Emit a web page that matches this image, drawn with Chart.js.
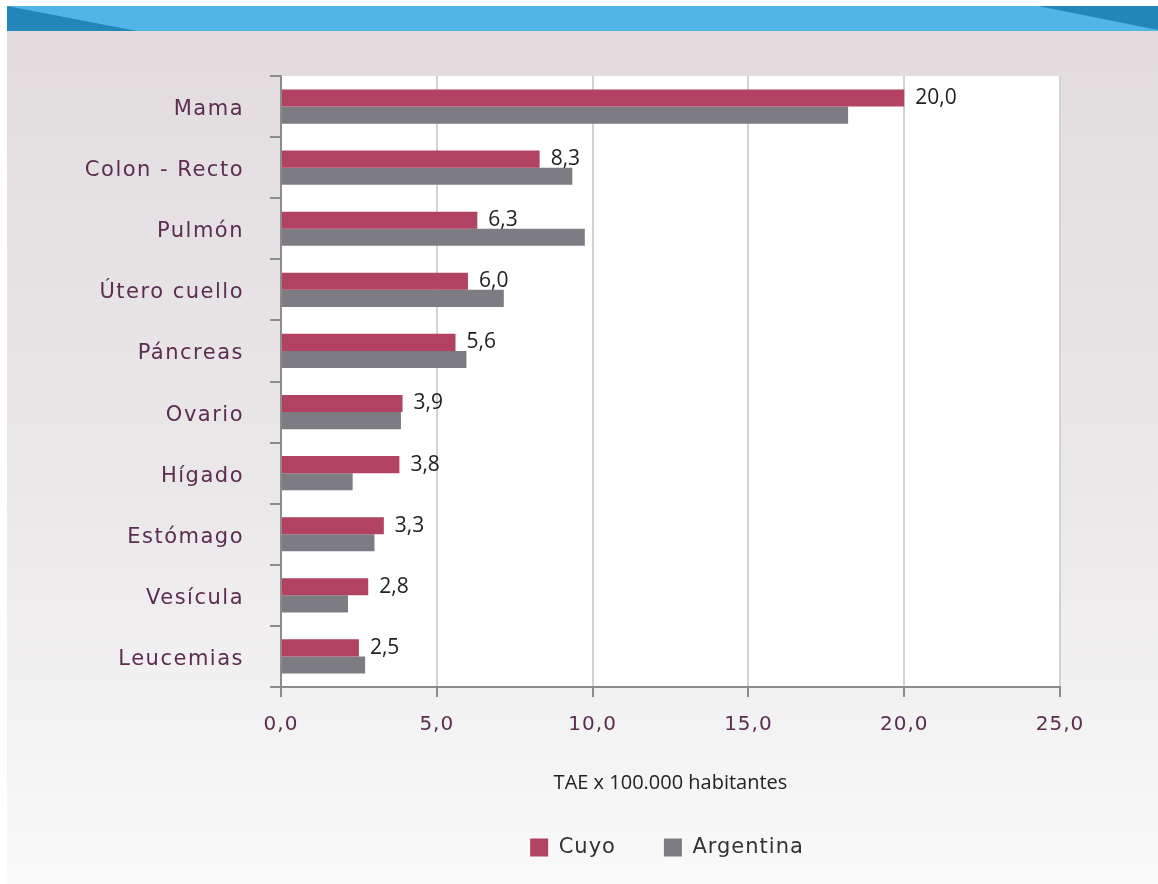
<!DOCTYPE html>
<html>
<head>
<meta charset="utf-8">
<script src="https://cdn.jsdelivr.net/npm/chart.js@4/dist/chart.umd.min.js"></script>
<style>
  html, body { margin: 0; padding: 0; background: #ffffff; }
  canvas { display: block; }
</style>
</head>
<body>
<canvas id="chart" width="1158" height="884"></canvas>
<script>
const categories = ["Mama", "Colon - Recto", "Pulmón", "Útero cuello", "Páncreas",
  "Ovario", "Hígado", "Estómago", "Vesícula", "Leucemias"];
const cuyo = [20.0, 8.3, 6.3, 6.0, 5.6, 3.9, 3.8, 3.3, 2.8, 2.5];
const argentina = [18.2, 9.35, 9.75, 7.15, 5.95, 3.85, 2.3, 3.0, 2.15, 2.7];
const xTicks = [0, 5, 10, 15, 20, 25];

const fmt = v => Number(v).toFixed(1).replace(".", ",");

// draw a box's text with a little extra tracking (and an optional nudge)
function spaced(obj, method, amount, dx = 0, dy = 0) {
  const orig = obj[method].bind(obj);
  obj[method] = function (...args) {
    const c = this.ctx;
    c.save();
    c.letterSpacing = amount;
    c.translate(dx, dy);
    orig(...args);
    c.restore();
  };
}

function trackLabels(scale, amount, dy = 0) {
  if (!scale._tracked) {
    spaced(scale, "drawLabels", amount, 0, dy);
    scale._tracked = true;
  }
}

const ctx = document.querySelector("#chart").getContext("2d");

// page background, blue header strip and white plot panel
const backdrop = {
  id: "backdrop",
  beforeInit(chart) {
    const lg = chart.legend;
    if (lg) {
      // keep the legend as a short strip under the axis title
      const fit = lg.fit.bind(lg);
      lg.fit = function () {
        fit();
        this.height = 95;
      };
      spaced(lg, "draw", "1px", -10);
    }
  },
  beforeDraw(chart) {
    const c = chart.ctx;
    const { width, height, chartArea: a } = chart;
    c.save();
    c.fillStyle = "#ffffff";
    c.fillRect(0, 0, width, height);
    const g = c.createLinearGradient(0, 30, 0, height);
    g.addColorStop(0, "#e2dcdf");
    g.addColorStop(0.55, "#ebe8ea");
    g.addColorStop(1, "#fafafa");
    c.fillStyle = g;
    c.fillRect(7, 6, width - 7, height - 6);
    c.fillStyle = "#50b6e6";
    c.fillRect(7, 6, width - 7, 25);
    c.fillStyle = "#2386b8";
    c.beginPath();
    c.moveTo(7, 6);
    c.lineTo(137, 31);
    c.lineTo(7, 31);
    c.closePath();
    c.fill();
    c.beginPath();
    c.moveTo(1038, 6);
    c.lineTo(width, 6);
    c.lineTo(width, 30);
    c.closePath();
    c.fill();
    c.fillStyle = "#ffffff";
    c.fillRect(a.left, a.top, a.right - a.left, a.bottom - a.top);
    c.restore();
  },
  afterDatasetsDraw(chart) {
    // value labels next to the Cuyo bars
    const c = chart.ctx;
    const meta = chart.getDatasetMeta(0);
    c.save();
    c.font = "21px 'Open Sans'";
    c.fillStyle = "#222222";
    c.textAlign = "left";
    c.textBaseline = "middle";
    meta.data.forEach((bar, i) => {
      c.fillText(fmt(cuyo[i]), bar.x + 11, bar.y);
    });
    c.restore();
  },
};

const chart = new Chart(ctx, {
  type: "bar",
  data: {
    labels: categories,
    datasets: [
      {
        label: "Cuyo",
        data: cuyo,
        backgroundColor: "#b14261",
        categoryPercentage: 0.56,
        barPercentage: 1,
      },
      {
        label: "Argentina",
        data: argentina,
        backgroundColor: "#7e7c83",
        categoryPercentage: 0.56,
        barPercentage: 1,
      },
    ],
  },
  options: {
    responsive: false,
    animation: false,
    indexAxis: "y",
    layout: { padding: { top: 76, right: 98, left: 0, bottom: 0 } },
    plugins: {
      legend: {
        position: "bottom",
        fullSize: false,
        labels: {
          boxWidth: 18,
          boxHeight: 18,
          padding: 48,
          color: "#333333",
          font: { family: "'DejaVu Sans'", size: 21 },
        },
      },
      tooltip: { enabled: false },
    },
    scales: {
      x: {
        min: 0,
        max: 25,
        afterFit(scale) {
          scale.height = 102;
        },
        afterUpdate(scale) {
          trackLabels(scale, "1px");
        },
        afterBuildTicks(scale) {
          scale.ticks = xTicks.map(v => ({ value: v }));
        },
        grid: {
          color: "#d3d3d3",
          lineWidth: 2,
          tickColor: "#8c8c8c",
          tickLength: 10,
        },
        border: { display: true, color: "#8c8c8c", width: 2 },
        ticks: {
          padding: 16,
          color: "#5b2d4f",
          font: { family: "'DejaVu Sans'", size: 20 },
          callback: v => fmt(v),
        },
        title: {
          display: true,
          text: "TAE x 100.000 habitantes",
          color: "#222222",
          font: { family: "'Open Sans'", size: 20 },
          padding: { top: 0, bottom: -6 },
        },
      },
      y: {
        afterFit(scale) {
          scale.width = 281;
        },
        afterUpdate(scale) {
          trackLabels(scale, "1.5px", 3);
        },
        grid: {
          drawOnChartArea: false,
          color: "#8c8c8c",
          lineWidth: 2,
          tickLength: 11,
        },
        border: { display: true, color: "#8c8c8c", width: 2 },
        ticks: {
          padding: 26,
          color: "#5b2d4f",
          font: { family: "'DejaVu Sans'", size: 21 },
        },
      },
    },
  },
  plugins: [backdrop],
});
</script>
</body>
</html>
